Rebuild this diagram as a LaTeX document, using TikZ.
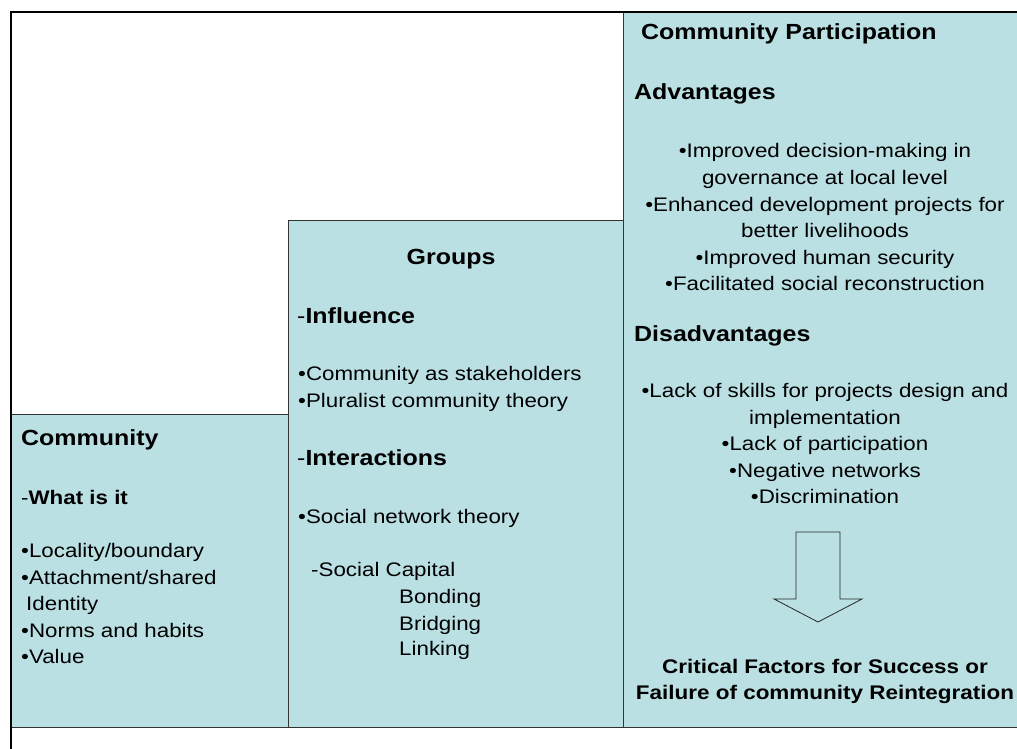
\documentclass[tikz,border=0pt]{standalone}
\usepackage{fontspec}
\setmainfont{Liberation Sans}[FakeStretch=1.14]
\definecolor{boxfill}{RGB}{186,224,228}
\begin{document}
\begin{tikzpicture}[x=1bp,y=-1bp,
  box/.style={draw=black!80, line width=0.8bp, fill=boxfill},
  body/.style={inner sep=0pt, anchor=base west, font=\fontsize{19.6bp}{26.6bp}\selectfont},
  cbody/.style={inner sep=0pt, anchor=base, font=\fontsize{19.6bp}{26.6bp}\selectfont},
  head/.style={inner sep=0pt, anchor=base west, font=\fontsize{21.9bp}{26bp}\selectfont\bfseries},
  chead/.style={inner sep=0pt, anchor=base, font=\fontsize{21.9bp}{26bp}\selectfont\bfseries},
  crit/.style={inner sep=0pt, anchor=base, font=\fontsize{19.7bp}{26bp}\selectfont\bfseries}]
\useasboundingbox (0,0) rectangle (1017,749);
\fill[white] (0,0) rectangle (1017,749);
\begin{scope}
\clip (0,0) rectangle (1017,749);
\draw[box] (11,414) rectangle (288,727);
\draw[box] (288,220) rectangle (623,727);
\draw[box] (623,12) rectangle (1040,727);
\draw[line width=2bp] (11,760) -- (11,12) -- (1030,12);
\end{scope}
% Community box
\node[head] (ctitle) at (21,445) {Community};
\node[body] (cwhat) at (21,504) {-\textbf{What is it}};
\node[body] (c1) at (21,557) {•Locality/boundary};
\node[body] (c2) at (21,584) {•Attachment/shared};
\node[body] (c3) at (26,610) {Identity};
\node[body] (c4) at (21,637) {•Norms and habits};
\node[body] (c5) at (21,663) {•Value};
% Groups box
\node[chead] (gtitle) at (451,264) {Groups};
\node[head] (ginf) at (297,323) {\mdseries-\bfseries Influence};
\node[body] (g1) at (298,380) {•Community as stakeholders};
\node[body] (g2) at (298,407) {•Pluralist community theory};
\node[head] (gint) at (297,465) {\mdseries-\bfseries Interactions};
\node[body] (g3) at (298,523) {•Social network theory};
\node[body] (g4) at (311,576) {-Social Capital};
\node[body] (g5) at (399,603) {Bonding};
\node[body] (g6) at (399,630) {Bridging};
\node[body] (g7) at (399,655) {Linking};
% Participation box
\node[head] (ptitle) at (641,40) {Community Participation};
\node[head] (padv) at (634,100) {Advantages};
\node[cbody] (a1) at (825,157) {•Improved decision-making in};
\node[cbody] (a2) at (825,184) {governance at local level};
\node[cbody] (a3) at (825,211) {•Enhanced development projects for};
\node[cbody] (a4) at (825,237) {better livelihoods};
\node[cbody] (a5) at (825,264) {•Improved human security};
\node[cbody] (a6) at (825,290) {•Facilitated social reconstruction};
\node[head] (pdis) at (634,341) {Disadvantages};
\node[cbody] (d1) at (825,397) {•Lack of skills for projects design and};
\node[cbody] (d2) at (825,424) {implementation};
\node[cbody] (d3) at (825,450) {•Lack of participation};
\node[cbody] (d4) at (825,477) {•Negative networks};
\node[cbody] (d5) at (825,503) {•Discrimination};
\draw[black!85, line width=0.8bp] (796,532) -- (840,532) -- (840,599) -- (862,599) -- (818,622) -- (774,599) -- (796,599) -- cycle;
\node[crit] (crit1) at (825,673) {Critical Factors for Success or};
\node[crit] (crit2) at (825,699) {Failure of community Reintegration};
\end{tikzpicture}
\end{document}
